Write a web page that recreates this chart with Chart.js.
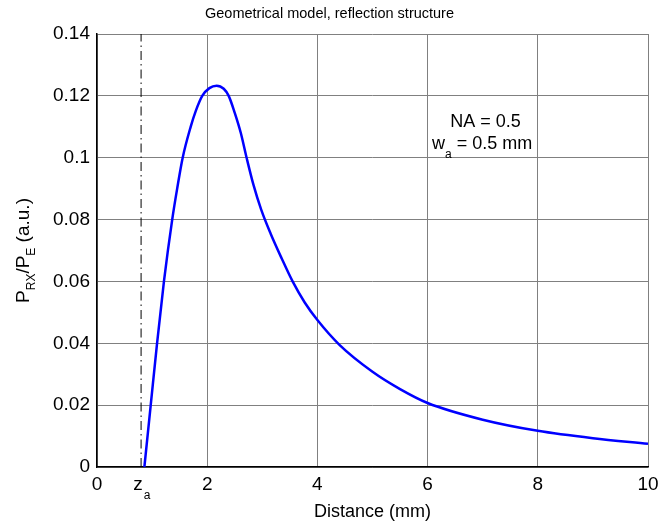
<!DOCTYPE html>
<html>
<head>
<meta charset="utf-8">
<script src="https://cdn.jsdelivr.net/npm/chart.js@4/dist/chart.umd.min.js"></script>
<style>
  html, body { margin: 0; padding: 0; background: #fff; }
  #wrap { width: 659px; height: 525px; }
</style>
</head>
<body>
<div id="wrap"><canvas id="myChart" width="659" height="525"></canvas></div>
<script>
// distance (mm) and received power ratio
var dist = [0.86, 0.975, 1.09, 1.215, 1.365, 1.455, 1.555, 1.70, 1.79, 1.91, 2.04, 2.17, 2.30, 2.39, 2.50, 2.61, 2.715, 2.84, 2.98, 3.15, 3.35, 3.55, 3.77, 4.0, 4.4, 5.0, 5.5, 6.0, 7.0, 8.0, 9.0, 10.0];
var ratio = [0, 0.02, 0.04, 0.06, 0.08, 0.09, 0.10, 0.11, 0.115, 0.12, 0.1225, 0.1233, 0.1223, 0.12, 0.1145, 0.108, 0.10, 0.0912, 0.0832, 0.0755, 0.0675, 0.06, 0.0532, 0.0475, 0.0395, 0.0308, 0.0252, 0.0207, 0.0153, 0.0117, 0.0093, 0.0075];
var za = 0.8;
var xTicks = [0, za, 2, 4, 6, 8, 10];
var yMax = 0.14;
var titleText = 'Geometrical model, reflection structure';
var xTitle = 'Distance (mm)';
var note1 = 'NA = 0.5';
var note2 = ['w', 'a', ' = 0.5 mm'];
var notePos = [6.41, 0.110, 6.08, 0.1027];

var FONT = '"Liberation Sans", Arial, sans-serif';

function f(sz) { return sz + 'px ' + FONT; }

var textPlugin = {
  id: 'texts',
  afterDraw: function(chart) {
    var c = chart.ctx, xs = chart.scales.x, ys = chart.scales.y, a = chart.chartArea;
    c.save();
    c.fillStyle = '#000';
    c.textBaseline = 'alphabetic';
    // title
    c.font = f(14.5);
    c.textAlign = 'center';
    c.fillText(titleText, chart.width / 2, 18);
    // x title
    c.font = f(18);
    c.fillText(xTitle, (a.left + a.right) / 2, 517);
    // z_a tick label
    var zx = xs.getPixelForValue(za);
    c.textAlign = 'left';
    c.font = f(19);
    var zw = c.measureText('z').width;
    c.fillText('z', zx - zw / 2 - 3, 490);
    c.font = f(12);
    c.fillText('a', zx - zw / 2 - 3 + zw + 1, 499);
    // notes
    c.font = f(18);
    c.fillText(note1, xs.getPixelForValue(notePos[0]), ys.getPixelForValue(notePos[1]));
    var nx = xs.getPixelForValue(notePos[2]), ny = ys.getPixelForValue(notePos[3]);
    c.fillText(note2[0], nx, ny);
    nx += c.measureText(note2[0]).width;
    c.font = f(12);
    c.fillText(note2[1], nx, ny + 9);
    nx += c.measureText(note2[1]).width;
    c.font = f(18);
    c.fillText(note2[2], nx, ny);
    // y title, rotated
    c.translate(29, (a.top + a.bottom) / 2);
    c.rotate(-Math.PI / 2);
    var parts = [['P', 19, 0], ['RX', 12, 6], ['/P', 19, 0], ['E', 12, 6], [' (a.u.)', 19, 0]];
    var tot = 0;
    parts.forEach(function(p) { c.font = f(p[1]); tot += c.measureText(p[0]).width; });
    var px = -tot / 2;
    parts.forEach(function(p) {
      c.font = f(p[1]);
      c.fillText(p[0], px, p[2]);
      px += c.measureText(p[0]).width;
    });
    c.restore();
  }
};

var ctx = document.getElementById('myChart');
var chart = new Chart(ctx, {
  type: 'scatter',
  data: {
    datasets: [{
      data: dist.map(function(d, i) { return {x: d, y: ratio[i]}; }),
      showLine: true,
      borderColor: '#0000ff',
      borderWidth: 2.5,
      pointRadius: 0,
      cubicInterpolationMode: 'monotone'
    }, {
      data: [{x: za, y: 0}, {x: za, y: yMax}],
      showLine: true,
      borderColor: '#000',
      borderWidth: 1,
      borderDash: [9, 4, 1.5, 4],
      pointRadius: 0
    }]
  },
  options: {
    animation: false,
    responsive: false,
    layout: { padding: { top: 34, right: 11, left: 0, bottom: 0 } },
    plugins: { legend: { display: false }, tooltip: { enabled: false } },
    scales: {
      x: {
        type: 'linear',
        min: 0, max: 10,
        afterBuildTicks: function(s) { s.ticks = xTicks.map(function(v) { return {value: v}; }); },
        afterFit: function(s) { s.height = 58; s.paddingRight = 0; s.paddingLeft = 0; },
        ticks: {
          color: '#000',
          font: { family: FONT, size: 19 },
          padding: 6,
          maxRotation: 0,
          autoSkip: false,
          callback: function(v) { return v === za ? '' : String(v); }
        },
        grid: {
          drawTicks: false,
          color: function(c) { return c.tick && c.tick.value === za ? 'rgba(0,0,0,0)' : '#808080'; },
          lineWidth: 1
        },
        border: { color: '#000', width: 1.5 }
      },
      y: {
        min: 0, max: yMax,
        afterFit: function(s) { s.width = 97; },
        ticks: {
          stepSize: 0.02,
          color: '#000',
          font: { family: FONT, size: 19 },
          padding: 7,
          callback: function(v) { return String(+v.toFixed(2)); }
        },
        grid: { drawTicks: false, color: '#808080', lineWidth: 1 },
        border: { color: '#000', width: 1.5 }
      }
    }
  },
  plugins: [textPlugin]
});
</script>
</body>
</html>
